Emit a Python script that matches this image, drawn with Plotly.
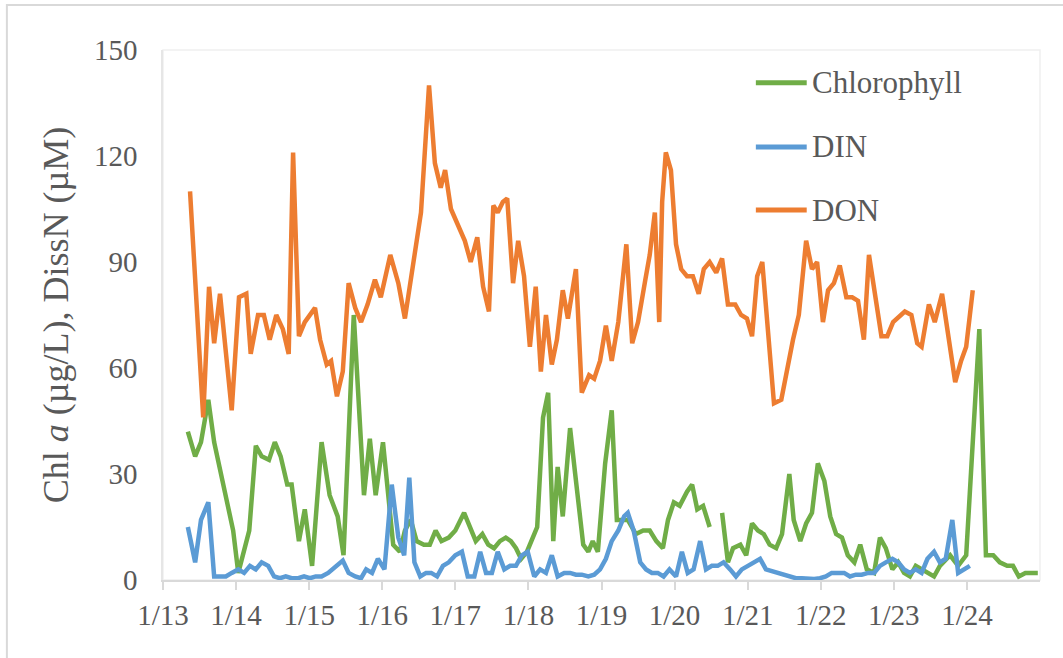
import plotly.graph_objects as go

# Sampling times in decimal years and measured values
don_t = [2013.37, 2013.55, 2013.63, 2013.70, 2013.78, 2013.94,
         2014.04, 2014.14, 2014.20, 2014.30, 2014.38, 2014.46, 2014.55, 2014.64, 2014.72, 2014.78, 2014.86, 2014.94,
         2015.08, 2015.15, 2015.24, 2015.30, 2015.38, 2015.46, 2015.54, 2015.63, 2015.71, 2015.80, 2015.90, 2015.98,
         2016.11, 2016.22, 2016.31, 2016.39, 2016.46, 2016.53, 2016.64, 2016.72, 2016.80, 2016.86, 2016.94,
         2017.04, 2017.13, 2017.21, 2017.30, 2017.38, 2017.46, 2017.52, 2017.58, 2017.65, 2017.71, 2017.79, 2017.86, 2017.94,
         2018.02, 2018.10, 2018.17, 2018.24, 2018.32, 2018.39, 2018.47, 2018.54, 2018.65, 2018.73, 2018.83, 2018.90, 2018.98,
         2019.06, 2019.14, 2019.23, 2019.34, 2019.42, 2019.50, 2019.60, 2019.66, 2019.73, 2019.79, 2019.83, 2019.88, 2019.95,
         2020.02, 2020.09, 2020.17, 2020.25, 2020.33, 2020.40, 2020.48, 2020.57, 2020.65, 2020.73, 2020.83, 2020.91, 2020.99,
         2021.06, 2021.13, 2021.20, 2021.28, 2021.36, 2021.46, 2021.54, 2021.62, 2021.70, 2021.80, 2021.88, 2021.95,
         2022.03, 2022.10, 2022.18, 2022.26, 2022.35, 2022.43, 2022.51, 2022.59, 2022.66, 2022.74, 2022.83, 2022.91, 2022.99,
         2023.15, 2023.24, 2023.32, 2023.38, 2023.48, 2023.56, 2023.66, 2023.84, 2023.92, 2023.99, 2024.08]
don = [110, 46, 83, 67, 81, 48,
       80, 81, 64, 75, 75, 68, 75, 71, 64, 121, 69, 73,
       77, 68, 61, 62, 52, 59, 84, 77, 73, 78, 85, 80,
       92, 84, 74, 85, 96, 104, 140, 118, 111, 116, 105,
       100, 96, 90, 97, 83, 76, 106, 104, 107, 108, 84, 96, 86,
       66, 83, 59, 75, 61, 68, 82, 74, 88, 53, 58, 57, 62,
       72, 62, 73, 95, 67, 73, 85, 92, 104, 73, 107, 121, 116,
       95, 88, 86, 86, 81, 88, 90, 87, 91, 78, 78, 75, 74,
       69, 86, 90, 68, 50, 51, 60, 68, 75, 96, 88, 90,
       73, 82, 84, 89, 80, 80, 79, 68, 92, 82, 69, 69, 73,
       76, 75, 67, 66, 78, 73, 81, 56, 62, 66, 82]

chl_t = [2013.34, 2013.44, 2013.52, 2013.62, 2013.70, 2013.78, 2013.88, 2013.96,
         2014.03, 2014.18, 2014.27, 2014.35, 2014.45, 2014.53, 2014.61, 2014.70, 2014.76, 2014.86, 2014.94,
         2015.04, 2015.17, 2015.28, 2015.39, 2015.47, 2015.61, 2015.75, 2015.83, 2015.91,
         2016.01, 2016.15, 2016.24, 2016.31, 2016.39, 2016.47, 2016.57, 2016.65, 2016.73, 2016.81, 2016.91,
         2017.00, 2017.12, 2017.20, 2017.28, 2017.37, 2017.45, 2017.53, 2017.61, 2017.69, 2017.76, 2017.83, 2017.90, 2017.98,
         2018.12, 2018.20, 2018.27, 2018.34, 2018.40, 2018.47, 2018.57, 2018.64, 2018.75, 2018.82, 2018.88, 2018.95,
         2019.05, 2019.14, 2019.21, 2019.30, 2019.36, 2019.47, 2019.57, 2019.66, 2019.75, 2019.84, 2019.91, 2019.99,
         2020.07, 2020.17, 2020.24, 2020.31, 2020.39, 2020.48, 2020.56,
         2020.65, 2020.73, 2020.80, 2020.90, 2020.98,
         2021.06, 2021.14, 2021.22, 2021.30, 2021.39, 2021.47, 2021.57, 2021.63, 2021.72, 2021.80, 2021.88, 2021.96,
         2022.05, 2022.13, 2022.21, 2022.29, 2022.37, 2022.46, 2022.54, 2022.63, 2022.73, 2022.81, 2022.89, 2022.98,
         2023.06, 2023.14, 2023.22, 2023.30, 2023.38, 2023.46, 2023.55, 2023.63, 2023.77, 2023.88, 2023.99,
         2024.17, 2024.26, 2024.36, 2024.45, 2024.55, 2024.63, 2024.71, 2024.80, 2024.89, 2024.97]
chl = [42, 35, 39, 51, 39, 31, 22, 14,
       2, 14, 38, 35, 34, 39, 35, 27, 27, 11, 20,
       4, 39, 24, 18, 7, 75, 24, 40, 24,
       39, 10, 8, 14, 17, 11, 10, 10, 14, 11, 12,
       14, 19, 15, 11, 13, 10, 9, 11, 12, 11, 9, 6, 8,
       15, 46, 53, 11, 32, 18, 43, 30, 10, 8, 11, 8,
       33, 48, 17, 17, 17, 13, 14, 14, 11, 9, 17, 22,
       21, 25, 27, 20, 21, 15, None,
       19, 5, 9, 10, 7,
       16, 14, 13, 10, 9, 13, 30, 17, 11, 16, 19, 33,
       28, 18, 13, 12, 7, 5, 10, 3, 2, 12, 9, 3,
       5, 2, 1, 4, 3, 2, 1, 4, 7, 4, 7,
       71, 7, 7, 5, 4, 4, 1, 2, 2, 2]

din_t = [2013.34, 2013.44, 2013.52, 2013.62, 2013.70, 2013.78, 2013.86, 2013.94,
         2014.03, 2014.11, 2014.19, 2014.27, 2014.35, 2014.44, 2014.52, 2014.60, 2014.68, 2014.76, 2014.85, 2014.93,
         2015.01, 2015.09, 2015.17, 2015.26, 2015.37, 2015.46, 2015.54, 2015.63, 2015.71, 2015.78, 2015.86, 2015.94,
         2016.03, 2016.13, 2016.22, 2016.30, 2016.37, 2016.44, 2016.52, 2016.60, 2016.67, 2016.75, 2016.83, 2016.91,
         2017.00, 2017.09, 2017.17, 2017.26, 2017.34, 2017.42, 2017.50, 2017.58, 2017.67, 2017.75, 2017.83, 2017.91, 2017.99,
         2018.08, 2018.16, 2018.24, 2018.32, 2018.40, 2018.49, 2018.57, 2018.65, 2018.73, 2018.82, 2018.90, 2018.98,
         2019.06, 2019.14, 2019.23, 2019.31, 2019.36, 2019.44, 2019.53, 2019.61, 2019.69, 2019.77, 2019.85, 2019.93,
         2020.02, 2020.10, 2020.18, 2020.26, 2020.35, 2020.43, 2020.51, 2020.59, 2020.67, 2020.76, 2020.84, 2020.92,
         2021.01, 2021.09, 2021.17, 2021.25, 2021.33, 2021.42, 2021.50, 2021.58, 2021.66, 2021.74, 2021.83, 2021.91, 2021.99,
         2022.07, 2022.15, 2022.24, 2022.32, 2022.40, 2022.48, 2022.56, 2022.65, 2022.73, 2022.81, 2022.89, 2022.98,
         2023.06, 2023.14, 2023.22, 2023.30, 2023.38, 2023.46, 2023.55, 2023.63, 2023.71, 2023.80, 2023.88, 2023.96, 2024.04]
din = [15, 5, 17, 22, 1, 1, 1, 2,
       3, 2, 4, 3, 5, 4, 1, 0.5, 1, 0.5, 0.5, 1,
       0.5, 1, 1, 2, 4, 5.5, 2, 1, 0.5, 3, 2, 6,
       3, 27, 12, 7, 29, 5, 1, 2, 2, 1, 4, 5,
       7, 8, 1, 1, 8, 2, 2, 8, 3, 4, 4, 7, 8,
       1, 3, 2, 7, 1, 2, 2, 1.5, 1.5, 1, 1.5, 3,
       6, 11, 14, 18, 19, 14, 5, 3, 2, 2, 1, 3,
       1, 8, 2, 3, 11, 3, 4, 4, 5, 3, 1, 3,
       4, 5, 6, 3, 2.5, 2, 1.5, 1, 0.5, 0.5, 0.3, 0.3, 0.5,
       1, 2, 2, 2, 1, 1.5, 1.5, 2, 2, 4, 5, 6,
       5, 3, 2, 3, 2, 6, 8, 5, 6, 17, 2, 3, 4]

year_ticks = list(range(2013, 2025))
tick_labels = ["1/13", "1/14", "1/15", "1/16", "1/17", "1/18",
               "1/19", "1/20", "1/21", "1/22", "1/23", "1/24"]
legend_names = ["Chlorophyll", "DIN", "DON"]

GREEN = "#70AD47"
BLUE = "#5B9BD5"
ORANGE = "#ED7D31"
GREY_TEXT = "#595959"
FONT = "Times New Roman, Liberation Serif, serif"

fig = go.Figure()
series = [(legend_names[0], chl_t, chl, GREEN),
          (legend_names[1], din_t, din, BLUE),
          (legend_names[2], don_t, don, ORANGE)]
for name, t, vals, color in series:
    fig.add_trace(go.Scatter(
        x=t, y=vals, name=name, mode="lines",
        line=dict(color=color, width=4.5), connectgaps=False,
        showlegend=False,
    ))

# legend drawn as line samples with labels, stacked top-right
legend_rows_y = [0.938, 0.817, 0.698]
for (name, _, _, color), ly in zip(series, legend_rows_y):
    fig.add_shape(type="line", xref="paper", yref="paper",
                  x0=0.676, x1=0.734, y0=ly, y1=ly,
                  line=dict(color=color, width=5))
    fig.add_annotation(xref="paper", yref="paper", x=0.738, y=ly,
                       xanchor="left", yanchor="middle", showarrow=False,
                       text=name, font=dict(size=31, color=GREY_TEXT, family=FONT))

# outer chart frame (left and top edges visible)
fig.add_shape(type="rect", xref="paper", yref="paper",
              x0=-0.178, x1=1.06, y0=-0.17, y1=1.085,
              line=dict(color="#d9d9d9", width=2), layer="below")
# faint frame around plot area
fig.add_shape(type="rect", xref="paper", yref="paper", x0=0, x1=1, y0=0, y1=1,
              line=dict(color="#f0f0f0", width=1.5), layer="below")

fig.update_layout(
    width=1063, height=658,
    margin=dict(l=163, r=23, t=50, b=78),
    paper_bgcolor="white", plot_bgcolor="white",
    font=dict(family=FONT, color=GREY_TEXT, size=29),
    showlegend=False,
    xaxis=dict(range=[2013, 2025], tickvals=year_ticks, ticktext=tick_labels,
               showgrid=False, zeroline=False,
               showline=True, linecolor="#d9d9d9", linewidth=2,
               ticks="outside", ticklen=8, tickcolor="#d9d9d9", tickwidth=2,
               tickfont=dict(size=29, family=FONT, color=GREY_TEXT)),
    yaxis=dict(range=[0, 150], tickvals=[0, 30, 60, 90, 120, 150],
               showgrid=False, zeroline=False, showline=True,
               linecolor="#e6e6e6", linewidth=1.5,
               ticks="", ticklabelstandoff=18,
               tickfont=dict(size=29, family=FONT, color=GREY_TEXT),
               title=dict(text="Chl <i>a</i> (µg/L), DissN (µM)",
                          font=dict(size=36, family=FONT, color=GREY_TEXT),
                          standoff=14)),
)

fig.write_html("out.html")
